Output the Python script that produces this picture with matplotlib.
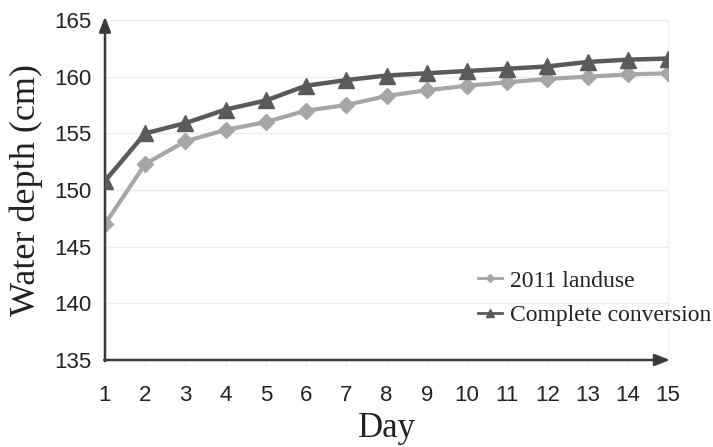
import matplotlib.pyplot as plt
import numpy as np

days = list(range(1, 16))
landuse_2011 = [147.0, 152.3, 154.3, 155.3, 156.0, 157.0, 157.5, 158.3, 158.8, 159.2, 159.5, 159.8, 160.0, 160.2, 160.3]
complete_conv = [150.8, 155.0, 155.9, 157.1, 157.9, 159.2, 159.7, 160.1, 160.3, 160.5, 160.7, 160.9, 161.3, 161.5, 161.6]
labels = ["2011 landuse", "Complete conversion"]

plt.rcParams['font.family'] = ['Liberation Sans', 'DejaVu Sans']

fig = plt.figure(figsize=(7.13, 4.47), dpi=100)
ax = fig.add_axes([105 / 713, 1 - 360 / 447, (668 - 105) / 713, (360 - 20) / 447])

ax.plot(days, landuse_2011, color="#a6a6a6", lw=3, marker="D", ms=8, label=labels[0], zorder=3)
ax.plot(days, complete_conv, color="#5a5a5a", lw=3.2, marker="^", ms=11, label=labels[1], zorder=4)

ax.set_xlim(1, 15)
ax.set_ylim(135, 165)
ax.set_xticks(days)
ax.set_yticks(np.arange(135, 166, 5))
ax.grid(axis="y", color="#eeeeee", lw=1)
ax.set_axisbelow(True)

for s in ["top", "left", "bottom"]:
    ax.spines[s].set_visible(False)
ax.spines["right"].set_color("#f0f0f0")

ax.tick_params(axis="x", length=4, color="#f0f0f0", pad=14, labelsize=16, labelcolor="#222222")
ax.tick_params(axis="y", length=0, pad=10, labelsize=16, labelcolor="#222222")

# axis arrows
ax.annotate("", xy=(1, 165.3), xytext=(1, 134.9), xycoords="data",
            arrowprops=dict(arrowstyle="-|>,head_length=0.9,head_width=0.35", color="#3a3a3a", lw=1.8,
                            shrinkA=0, shrinkB=0), annotation_clip=False)
ax.annotate("", xy=(15.05, 135), xytext=(0.98, 135), xycoords="data",
            arrowprops=dict(arrowstyle="-|>,head_length=0.9,head_width=0.35", color="#3a3a3a", lw=1.8,
                            shrinkA=0, shrinkB=0), annotation_clip=False)

ax.set_xlabel("Day", family="Liberation Serif", fontsize=25, labelpad=4, color="#222222")
ax.set_ylabel("Water depth (cm)", family="Liberation Serif", fontsize=26, labelpad=8, color="#222222")

leg = ax.legend(loc="upper left", bbox_to_anchor=(478 / 713, 1 - 270 / 447), bbox_transform=fig.transFigure,
                frameon=False, prop={"family": "Liberation Serif", "size": 17},
                handlelength=1.0, handletextpad=0.35, labelspacing=0.55, borderpad=0, borderaxespad=0,
                markerscale=0.5)
for t in leg.get_texts():
    t.set_color("#222222")
for h in leg.legend_handles:
    h.set_linewidth(2)

fig.savefig("out.png", dpi=100)
